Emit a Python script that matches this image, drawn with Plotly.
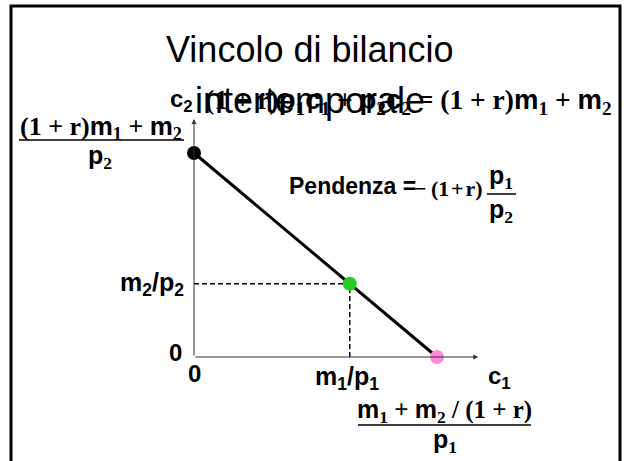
import plotly.graph_objects as go

# ---- data (arbitrary units) ----
point_c1 = [0, 40, 62.4]          # y-intercept, endowment, x-intercept
point_c2 = [78, 28, 0]
point_colors = ["#000000", "#22CC22", "#FF88D8"]
endow_c1 = 40
endow_c2 = 28
c1_axis_max = 73
c2_axis_max = 91

SANS = "Liberation Sans"
SERIF = "Liberation Serif"


def S(t):
    return f"<span style='font-family:{SERIF}'>{t}</span>"


def sub(t, serif=True):
    return f"<sub>{S(t) if serif else t}</sub>"


fig = go.Figure()

# dashed guides to the endowment
fig.add_trace(go.Scatter(x=[0, endow_c1, endow_c1], y=[endow_c2, endow_c2, 0],
                         mode="lines", line=dict(color="#000", width=1.5, dash="5px,3px"),
                         hoverinfo="skip"))
# budget line
fig.add_trace(go.Scatter(x=[point_c1[0], point_c1[2]], y=[point_c2[0], point_c2[2]],
                         mode="lines", line=dict(color="#000", width=3), hoverinfo="skip"))
# points
fig.add_trace(go.Scatter(x=point_c1, y=point_c2, mode="markers",
                         marker=dict(size=14, color=point_colors, line=dict(width=0)),
                         hoverinfo="skip"))

ann = []
# axes as arrows
ann.append(dict(x=c1_axis_max, y=0, ax=0, ay=0, xref="x", yref="y", axref="x", ayref="y",
                text="", showarrow=True, arrowhead=2, arrowsize=1, arrowwidth=1, arrowcolor="#333"))
ann.append(dict(x=0, y=c2_axis_max, ax=0, ay=0, xref="x", yref="y", axref="x", ayref="y",
                text="", showarrow=True, arrowhead=2, arrowsize=1, arrowwidth=1, arrowcolor="#333"))


def label(text, x, y, xs=0, ys=0, xa="center", ref="data", size=25, family=SANS):
    d = dict(text=f"<b>{text}</b>", x=x, y=y, xshift=xs, yshift=ys, showarrow=False,
             xanchor=xa, yanchor="middle", font=dict(family=family, size=size, color="#000"))
    if ref == "data":
        d.update(xref="x", yref="y")
    else:
        d.update(xref="paper", yref="paper")
    ann.append(d)


# axis labels
label("c" + sub("2", False), 0, c2_axis_max, xs=-13, ys=19, size=24)
label("c" + sub("1", False), c1_axis_max, 0, xs=21, ys=-20, size=24)
label("0", 0, 0, xs=-19, ys=5, size=24)
label("0", 0, 0, xs=0, ys=-16, size=24)
label("m" + sub("1", False) + "/p" + sub("1", False), endow_c1, 0, xs=-3, ys=-21)
label("m" + sub("2", False) + "/p" + sub("2", False), 0, endow_c2, xs=-8, ys=0, xa="right")

# y-intercept fraction
label(S("(1 + r)") + "m" + sub("1") + S(" + ") + "m" + sub("2"), 0, point_c2[0], xs=-93, ys=26, size=26)
label("p" + sub("2"), 0, point_c2[0], xs=-94, ys=-4, size=25)
# x-intercept fraction
label("m" + sub("1") + S(" + ") + "m" + sub("2") + S(" / (1 + r)"), point_c1[2], 0, xs=8, ys=-54)
label("p" + sub("1"), point_c1[2], 0, xs=8, ys=-84)

W, H = 626, 461


def px(xp):
    return xp / W


def py(yp):
    return 1 - yp / H


# equation
label(S("(1 + r)") + "p" + sub("1") + "c" + sub("1") + S(" + ") + "p" + sub("2") + "c" + sub("2")
      + S(" = (1 + r)") + "m" + sub("1") + S(" + ") + "m" + sub("2"),
      px(203), py(101), xa="left", ref="paper", size=27.5)
# slope
label("Pendenza =", px(287), py(186), xa="left", ref="paper", size=23)
label("\u2212\u2009(1\u200a+\u200ar)", px(485), py(188), xa="right", ref="paper", size=22, family=SERIF)
label("p" + sub("1"), px(501), py(177), ref="paper", size=25)
label("p" + sub("2"), px(501), py(211), ref="paper", size=25)

# title
for txt, yc in [("Vincolo di bilancio", 50), ("intertemporale", 100)]:
    ann.append(dict(text=txt, x=px(310), y=py(yc), xref="paper", yref="paper", showarrow=False,
                    xanchor="center", yanchor="middle",
                    font=dict(family=SANS, size=36, color="#000")))

shapes = [
    # slide border
    dict(type="rect", xref="paper", yref="paper", x0=px(11), x1=px(620), y0=-0.2, y1=py(6),
         line=dict(color="#000", width=3), fillcolor="rgba(0,0,0,0)"),
    # fraction bars
    dict(type="line", xref="x", yref="y", xsizemode="pixel", ysizemode="pixel",
         xanchor=0, yanchor=point_c2[0], x0=-175, x1=-10, y0=13, y1=13,
         line=dict(color="#000", width=1.5)),
    dict(type="line", xref="x", yref="y", xsizemode="pixel", ysizemode="pixel",
         xanchor=point_c1[2], yanchor=0, x0=-79, x1=94, y0=-68, y1=-68,
         line=dict(color="#000", width=1.5)),
    dict(type="line", xref="paper", yref="paper", x0=px(487), x1=px(516), y0=py(194), y1=py(194),
         line=dict(color="#000", width=1.5)),
]

fig.update_layout(
    width=W, height=H, margin=dict(l=0, r=0, t=0, b=0),
    paper_bgcolor="white", plot_bgcolor="white", showlegend=False,
    xaxis=dict(range=[-49.82, 110.94], visible=False, fixedrange=True),
    yaxis=dict(range=[-39.76, 136.5], visible=False, fixedrange=True),
    annotations=ann, shapes=shapes,
)

fig.write_html("out.html", config={"displayModeBar": False},
               post_script="document.body.style.margin='0';")
